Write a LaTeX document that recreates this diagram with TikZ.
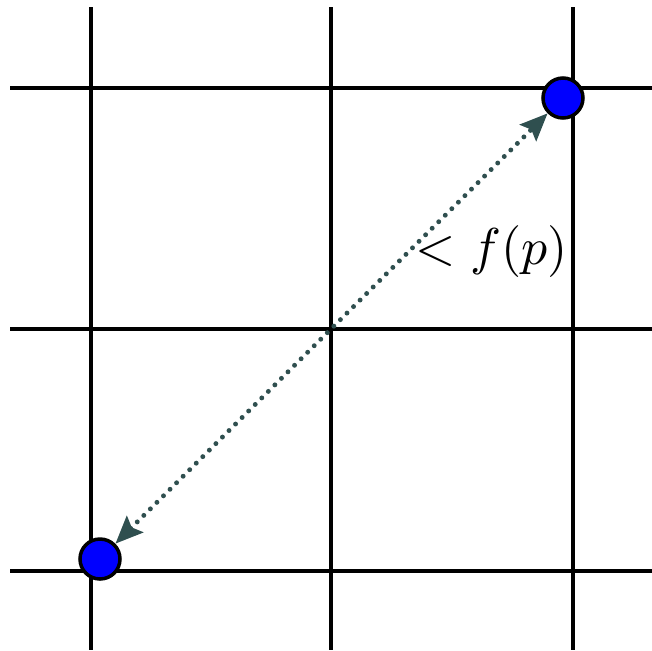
\documentclass[tikz,border=0pt]{standalone}
\usetikzlibrary{arrows.meta}
\definecolor{arrowgray}{RGB}{47,79,79}
\tikzset{
  gridline/.style={line width=2.2pt, black},
  dot/.style={circle, draw=black, fill=blue, line width=2pt, minimum size=0.8cm, inner sep=0pt},
  distarrow/.style={arrowgray, line width=2.8pt, dash pattern=on 0pt off 0.185cm, line cap=round,
    {Stealth[length=0.55cm,width=0.46cm,inset=0.09cm,line cap=butt]}-{Stealth[length=0.55cm,width=0.46cm,inset=0.09cm,line cap=butt]}}
}
\begin{document}
\begin{tikzpicture}[x=0.02cm,y=-0.02cm]
\useasboundingbox (0,0) rectangle (652,650);
% grid
\foreach \x in {91,331,573} \draw[gridline] (\x,7) -- (\x,650);
\foreach \y in {88,329,571} \draw[gridline] (10,\y) -- (652,\y);
% points
\node[dot] (p) at (563,98) {};
\node[dot] (q) at (100,559) {};
\draw[distarrow] (q) -- (p);
\node[scale=2.95] (lbl) at (492,252) {$<f(p)$};
\end{tikzpicture}
\end{document}
